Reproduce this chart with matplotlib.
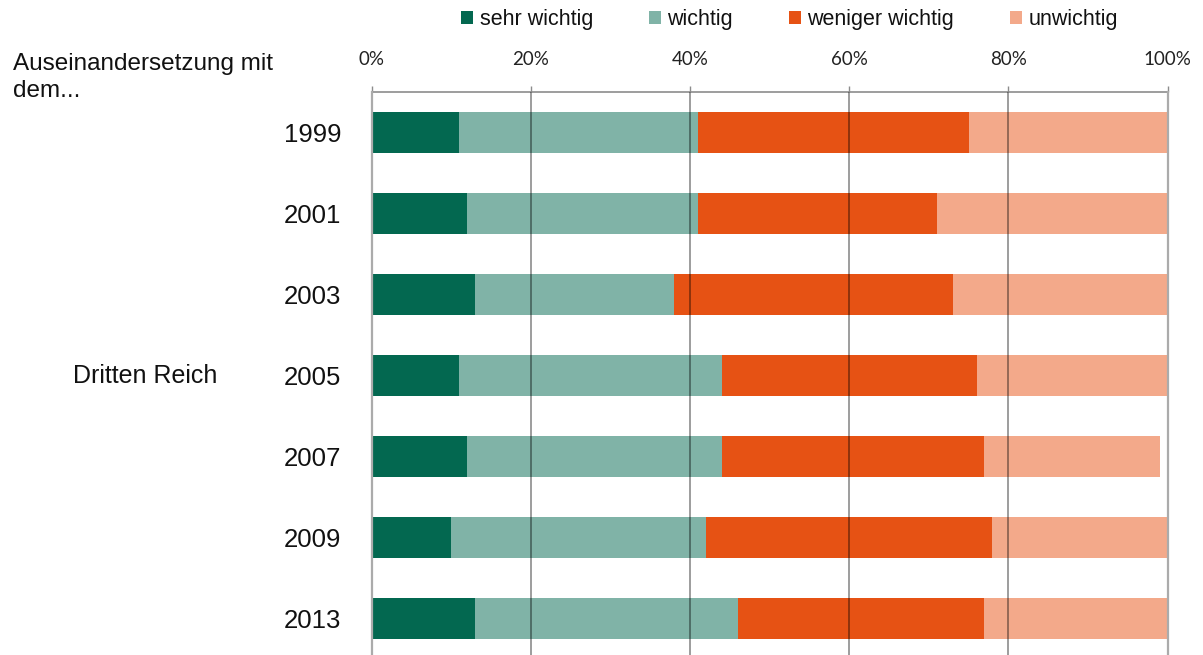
import matplotlib
matplotlib.use("Agg")
import matplotlib.pyplot as plt
from matplotlib.patches import Patch
from matplotlib.ticker import FixedLocator, FuncFormatter
import matplotlib.transforms as mtransforms

# Survey waves and answer shares (percent)
years = ["1999", "2001", "2003", "2005", "2007", "2009", "2013"]
series_names = ["sehr wichtig", "wichtig", "weniger wichtig", "unwichtig"]
sehr_wichtig = [11, 12, 13, 11, 12, 10, 13]
wichtig = [30, 29, 25, 33, 32, 32, 33]
weniger_wichtig = [34, 30, 35, 32, 33, 36, 31]
unwichtig = [25, 29, 27, 24, 22, 22, 23]
x_ticks = [0, 20, 40, 60, 80, 100]
question_label = "Auseinandersetzung mit\ndem..."
topic_label = "Dritten Reich"

colors = ["#036850", "#80B3A7", "#E65214", "#F3A98A"]

W, H = 1203, 655
fig = plt.figure(figsize=(W / 100, H / 100), dpi=100)
ax = fig.add_axes([371.7 / W, 0.0, (1167.5 - 371.7) / W, 1 - 92 / H])

series = [sehr_wichtig, wichtig, weniger_wichtig, unwichtig]
pos = list(range(len(years)))
left = [0] * len(years)
for vals, col in zip(series, colors):
    ax.barh(pos, vals, left=left, height=0.5, color=col, zorder=1, linewidth=0)
    left = [a + b for a, b in zip(left, vals)]

ax.set_xlim(0, 100)
ax.set_ylim(6.45, -0.5)

# x axis on top with percent labels
ax.xaxis.tick_top()
ax.xaxis.set_major_locator(FixedLocator(x_ticks))
ax.xaxis.set_major_formatter(FuncFormatter(lambda v, p: f"{v:.0f}%"))
ax.tick_params(axis="x", direction="out", length=4.5, width=1.0,
               color="#8c8c8c", pad=12.5, labelsize=13.5, labelcolor="#222222")
for lab in ax.get_xticklabels():
    lab.set_fontfamily("Lato")

ax.set_yticks(pos)
ax.set_yticklabels(years, fontsize=18.5, fontfamily="Liberation Sans", color="#111111")
ax.tick_params(axis="y", length=0, pad=22)

# vertical gridlines drawn over the bars
ax.set_axisbelow(False)
ax.grid(axis="x", color="black", alpha=0.45, linewidth=1.2, zorder=3)
ax.grid(axis="y", visible=False)

ax.spines["bottom"].set_visible(False)
ax.spines["top"].set_color("#8c8c8c")
ax.spines["top"].set_linewidth(1.2)
for s in ["left", "right"]:
    ax.spines[s].set_color("#ababab")
    ax.spines[s].set_linewidth(1.6)
    ax.spines[s].set_zorder(4)

# question text on the upper left
fig.text(12.7 / W, 1 - 53 / H, question_label, ha="left", va="top",
         fontsize=17.5, fontfamily="Liberation Sans", color="#111111",
         linespacing=1.3)

# topic label next to the middle row
tb = mtransforms.blended_transform_factory(fig.transFigure, ax.transData)
ax.text(72.7 / W, 3, topic_label, transform=tb, ha="left", va="center",
        fontsize=18, fontfamily="Liberation Sans", color="#111111")

handles = [Patch(facecolor=c, edgecolor="none") for c in colors]
leg = fig.legend(handles, series_names, loc="center", ncol=4,
                 bbox_to_anchor=(789.5 / W, 1 - 20 / H), frameon=False,
                 prop={"family": "Liberation Sans", "size": 15.5},
                 handlelength=0.55, handleheight=0.55, handletextpad=0.3,
                 columnspacing=2.6, borderpad=0, borderaxespad=0)
for t in leg.get_texts():
    t.set_color("#111111")

fig.savefig("out.png", dpi=100)
